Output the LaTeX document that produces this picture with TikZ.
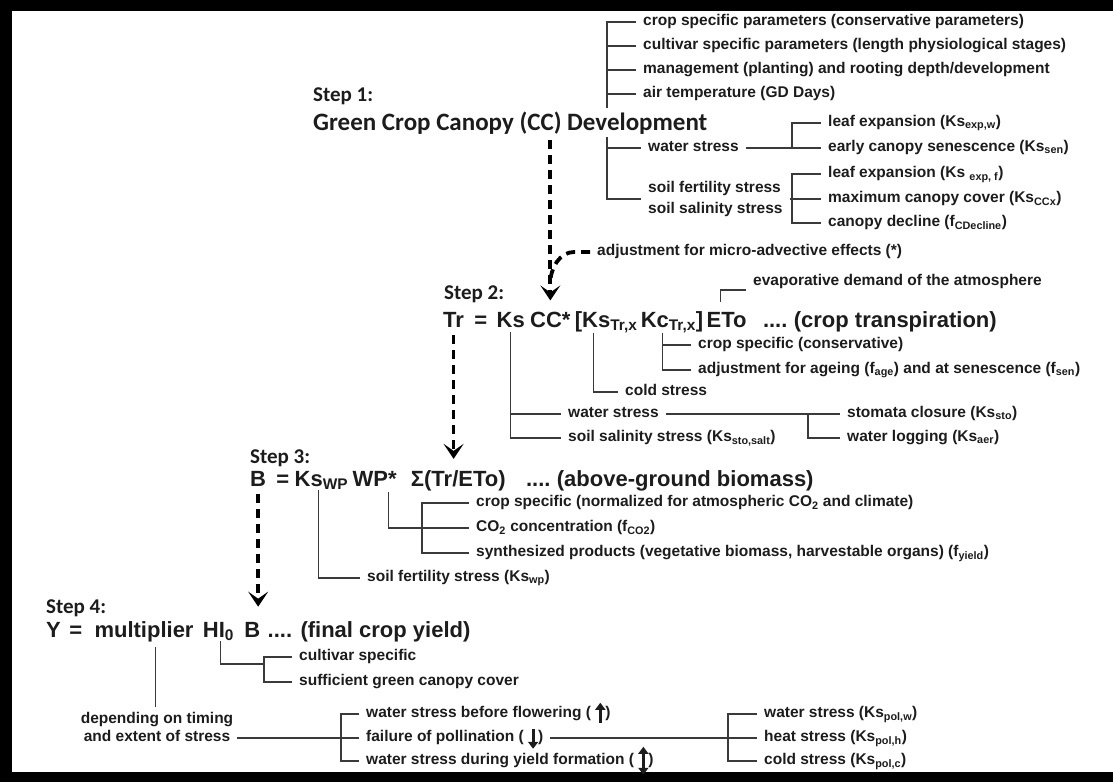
\documentclass[tikz,border=0pt]{standalone}
\usepackage{fontspec}
\setmainfont{Liberation Sans}
\newfontfamily\stepfont{Carlito}
\usetikzlibrary{positioning, arrows.meta}
\definecolor{ink}{HTML}{1c1c1c}
\definecolor{rule}{HTML}{3a3a3a}
\tikzstyle{txt} = [anchor=west, inner xsep=7pt, inner ysep=1pt, text=ink, font=\fontsize{15.5}{18}\selectfont\bfseries]
\tikzstyle{lbl} = [txt, text height=11pt, text depth=3.5pt]
\tikzstyle{steplbl} = [anchor=base west, inner sep=0pt, text=ink, font=\stepfont\fontsize{21}{24}\selectfont\bfseries]
\tikzstyle{eq} = [anchor=base west, inner sep=0pt, text=ink, font=\fontsize{22}{26}\selectfont\bfseries]
\tikzstyle{br} = [draw=rule, line width=1.3pt]
\tikzstyle{flowline} = [line width=3.8pt, dash pattern=on 9pt off 6pt]
\tikzstyle{flow} = [flowline, -{Stealth[length=15pt,width=20pt,inset=7pt]}, shorten >=11pt]
\newcommand{\arrup}{\tikz[baseline=0pt]\draw[line width=3pt,-{Triangle[length=7pt,width=10pt]}] (0pt,-5pt) -- (0pt,15pt);}
\newcommand{\arrdown}{\tikz[baseline=0pt]\draw[line width=3pt,-{Triangle[length=7pt,width=10pt]}] (0pt,13pt) -- (0pt,-7pt);}
\newcommand{\arrboth}{\tikz[baseline=0pt]\draw[line width=3pt,{Triangle[length=7pt,width=10pt]}-{Triangle[length=7pt,width=10pt]}] (0pt,-10pt) -- (0pt,18pt);}

\begin{document}
\begin{tikzpicture}[x=1pt, y=-1pt]
    \useasboundingbox (0,0) rectangle (1113,782);
    % frame
    \fill[black] (0,0) rectangle (1113,11);
    \fill[black] (0,0) rectangle (12,782);
    \fill[black] (0,772) rectangle (1113,782);

    % step 1
    \node (s1) [steplbl] at (313,101) {Step 1:};
    \node (cc) [steplbl, font=\stepfont\fontsize{25}{28}\selectfont\bfseries] at (313,130) {Green Crop Canopy (CC) Development};
    \node (p1) [lbl] at (636,22) {crop specific parameters (conservative parameters)};
    \node (p2) [lbl] at (636,46) {cultivar specific parameters (length physiological stages)};
    \node (p3) [lbl] at (636,70) {management (planting) and rooting depth/development};
    \node (p4) [lbl] at (636,94) {air temperature (GD Days)};
    \coordinate (cctop) at (607,108);
    \draw[br] (p1.west) -| (cctop);
    \draw[br] (p2.west) -- (p2.west -| cctop);
    \draw[br] (p3.west) -- (p3.west -| cctop);
    \draw[br] (p4.west) -- (p4.west -| cctop);

    \node (ws) [lbl] at (641,148) {water stress};
    \node (ss) [txt, align=left, font=\fontsize{15.5}{21}\selectfont\bfseries] at (641,199) {soil fertility stress\\soil salinity stress};
    \coordinate (ccbot) at (607,137);
    \draw[br] (ccbot) |- (ss.west);
    \draw[br] (ws.west) -- (ws.west -| ccbot);

    \node (le1) [lbl] at (821,123) {leaf expansion (Ks\textsubscript{exp,w})};
    \node (ec) [lbl] at (821,148) {early canopy senescence (Ks\textsubscript{sen})};
    \coordinate (wsk) at (792,148);
    \draw[br] (ws.east) -- (ec.west);
    \draw[br] (le1.west) -| (wsk);

    \node (lf) [lbl] at (821,174) {leaf expansion (Ks \textsubscript{exp, f})};
    \node (mc) [lbl] at (821,199) {maximum canopy cover (Ks\textsubscript{CCx})};
    \node (cd) [lbl] at (821,223) {canopy decline (f\textsubscript{CDecline})};
    \coordinate (ssk) at (792,199);
    \draw[br] (ss.east) -- (mc.west);
    \draw[br] (lf.west) -| (ssk) |- (cd.west);

    % step 2
    \node (adj) [lbl] at (590,252) {adjustment for micro-advective effects (*)};
    \node (s2) [steplbl] at (444,299) {Step 2:};
    \node (trTr) [eq] at (443,327) {Tr};
    \node (trEq) [eq, base right=10pt of trTr] {=};
    \node (trKs) [eq, base right=9pt of trEq] {Ks};
    \node (trCC) [eq, base right=5pt of trKs] {CC*};
    \node (trKsT) [eq, base right=4pt of trCC] {[Ks\textsubscript{Tr,x}};
    \node (trKcT) [eq, base right=3pt of trKsT] {Kc\textsubscript{Tr,x}]};
    \node (trETo) [eq, base right=3pt of trKcT] {ETo};
    \node (trDots) [eq, base right=16pt of trETo] {....};
    \node (trTxt) [eq, base right=6pt of trDots] {(crop transpiration)};

    \draw[flow, shorten <=6pt] (cc.south -| trCC.north) -- (trCC.north);
    \coordinate (join) at ([yshift=28pt]trCC.north);
    \draw[flowline] (adj.west) -- ++(-16,0) .. controls +(-14,0) and +(0,-16) .. (join);

    \node (ev) [lbl] at (746,282) {evaporative demand of the atmosphere};
    \coordinate (etok) at ([xshift=-6pt,yshift=10pt]trETo.north);
    \draw[br] (etok) |- ([yshift=-8pt]ev.west);

    \node (w2) [lbl] at (561,414) {water stress};
    \node (sal) [lbl] at (561,438) {soil salinity stress (Ks\textsubscript{sto,salt})};
    \draw[br, shorten <=5pt] (trKs.south) |- (sal.west);
    \draw[br] (w2.west) -- (w2.west -| trKs.south);

    \node (cold) [lbl] at (618,392) {cold stress};
    \coordinate (ksk) at ([xshift=19pt]trKsT.south west);
    \draw[br] (ksk) |- (cold.west);

    \node (csp) [lbl] at (691,345) {crop specific (conservative)};
    \node (ag) [lbl] at (691,370) {adjustment for ageing (f\textsubscript{age}) and at senescence (f\textsubscript{sen})};
    \coordinate (kck) at ([xshift=22pt]trKcT.south west);
    \draw[br] (kck) |- (ag.west);
    \draw[br] (csp.west) -- (csp.west -| kck);

    \node (sto) [lbl] at (840,414) {stomata closure (Ks\textsubscript{sto})};
    \node (wl) [lbl] at (840,438) {water logging (Ks\textsubscript{aer})};
    \coordinate (stok) at (808,414);
    \draw[br] (w2.east) -- (sto.west);
    \draw[br] (stok) |- (wl.west);

    % step 3
    \node (s3) [steplbl] at (250,463) {Step 3:};
    \node (bB) [eq] at (250,486) {B};
    \node (bEq) [eq, base right=10pt of bB] {=};
    \node (bKs) [eq, base right=5pt of bEq] {Ks\textsubscript{WP}};
    \node (bWP) [eq, base right=4pt of bKs] {WP*};
    \node (bSig) [eq, base right=14pt of bWP] {Σ(Tr/ETo)};
    \node (bDots) [eq, base right=20pt of bSig] {....};
    \node (bTxt) [eq, base right=6pt of bDots] {(above-ground biomass)};

    \draw[flow, shorten <=8pt] (trTr.south) -- (trTr.south |- bSig.north);

    \node (nrm) [lbl] at (469,503) {crop specific (normalized for atmospheric CO\textsubscript{2} and climate)};
    \node (co2) [lbl] at (469,528) {CO\textsubscript{2} concentration (f\textsubscript{CO2})};
    \node (syn) [lbl] at (469,553) {synthesized products (vegetative biomass, harvestable organs) (f\textsubscript{yield})};
    \node (sfs) [lbl] at (360,578) {soil fertility stress (Ks\textsubscript{wp})};
    \coordinate (kwk) at ([xshift=24pt]bKs.south west);
    \draw[br] (kwk) |- (sfs.west);
    \coordinate (wpk) at ([xshift=36pt]bWP.south west);
    \draw[br, shorten <=6pt] (wpk) |- (co2.west);
    \draw[br] (nrm.west) -- ++(-47,0) |- (syn.west);

    % step 4
    \node (s4) [steplbl] at (46,613) {Step 4:};
    \node (yY) [eq] at (46,637) {Y};
    \node (yEq) [eq, base right=8pt of yY] {=};
    \node (yMul) [eq, base right=12pt of yEq] {multiplier};
    \node (yHI) [eq, base right=9pt of yMul] {HI\textsubscript{0}};
    \node (yB) [eq, base right=10pt of yHI] {B};
    \node (yDots) [eq, base right=7pt of yB] {....};
    \node (yTxt) [eq, base right=8pt of yDots] {(final crop yield)};

    \draw[flow, shorten <=8pt, shorten >=15pt] (bB.south) -- (bB.south |- yB.north);

    \node (cv) [lbl] at (292,657) {cultivar specific};
    \node (sg) [lbl] at (292,682) {sufficient green canopy cover};
    \coordinate (hik) at ([xshift=18pt]yHI.south west);
    \coordinate (hij) at ([xshift=-28pt,yshift=-7pt]cv.west);
    \draw[br] (hik) |- (hij);
    \draw[br] (cv.west) -- ++(-28,0) |- (sg.west);

    \node (dep1) [lbl, anchor=center] at (157,720) {depending on timing};
    \node (dep2) [lbl, anchor=center] at (157,738) {and extent of stress};
    \coordinate (mulk) at ([xshift=61pt]yMul.south west);
    \draw[br, shorten <=5pt, shorten >=5pt] (mulk) -- (mulk |- dep1.north);

    \node (wf) [lbl] at (359,714) {water stress before flowering ( \arrup)};
    \node (fp) [lbl] at (359,738) {failure of pollination ( \arrdown)};
    \node (wy) [lbl] at (359,761) {water stress during yield formation ( \arrboth)};
    \draw[br] (dep2.east) -- (fp.west);
    \draw[br] (wf.west) -- ++(-18,0) |- (wy.west);

    \node (pw) [lbl] at (757,714) {water stress (Ks\textsubscript{pol,w})};
    \node (ph) [lbl] at (757,738) {heat stress (Ks\textsubscript{pol,h})};
    \node (pc) [lbl] at (757,761) {cold stress (Ks\textsubscript{pol,c})};
    \draw[br] (fp.east) -- (ph.west);
    \draw[br] (pw.west) -- ++(-29,0) |- (pc.west);
\end{tikzpicture}
\end{document}
